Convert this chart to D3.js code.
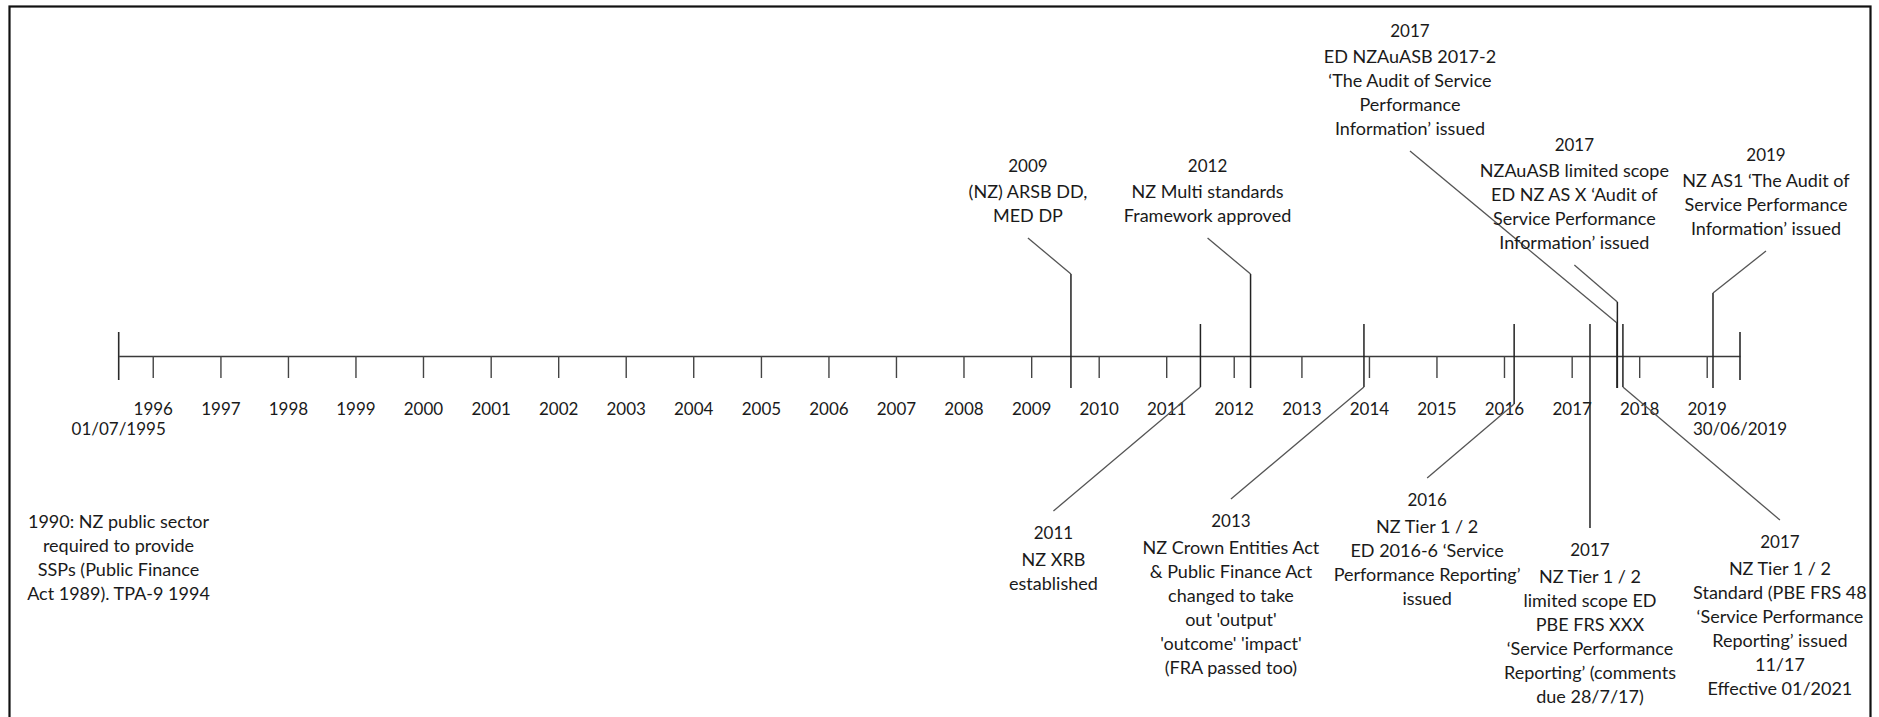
<!DOCTYPE html>
<html lang="en">
<head>
    <meta charset="UTF-8">
    <title>NZ service performance reporting timeline</title>
    <script src="https://cdn.jsdelivr.net/npm/d3@7"></script>
    <style>
        body { margin: 0; background: #fff; }
        text { font-family: Lato, "Open Sans", sans-serif; fill: #1a1a1a; }
    </style>
</head>
<body>
<div id="chart"></div>

<script>
    // timeline span
    var startDate = "1995-07-01", endDate = "2019-06-30";
    var startLabel = "01/07/1995", endLabel = "30/06/2019";

    // events on the timeline
    var eventDates = ["2009-08-04", "2012-04-01", "2017-09-03", "2017-09-05", "2019-02-04",
        "2011-07-05", "2013-12-05", "2016-02-25", "2017-04-10", "2017-10-05"];
    var eventYears = ["2009", "2012", "2017", "2017", "2019", "2011", "2013", "2016", "2017", "2017"];
    var eventSides = ["above", "above", "above", "above", "above", "below", "below", "below", "below", "below"];
    var eventTexts = [
        ["(NZ) ARSB DD,", "MED DP"],
        ["NZ Multi standards", "Framework approved"],
        ["ED NZAuASB 2017-2", "\u2018The Audit of Service", "Performance", "Information\u2019 issued"],
        ["NZAuASB limited scope", "ED NZ AS X \u2018Audit of", "Service Performance", "Information\u2019 issued"],
        ["NZ AS1 \u2018The Audit of", "Service Performance", "Information\u2019 issued"],
        ["NZ XRB", "established"],
        ["NZ Crown Entities Act", "& Public Finance Act", "changed to take", "out 'output'", "'outcome' 'impact'", "(FRA passed too)"],
        ["NZ Tier 1 / 2", "ED 2016-6 \u2018Service", "Performance Reporting\u2019", "issued"],
        ["NZ Tier 1 / 2", "limited scope ED", "PBE FRS XXX", "\u2018Service Performance", "Reporting\u2019  (comments", "due 28/7/17)"],
        ["NZ Tier 1 / 2", "Standard (PBE FRS 48", "\u2018Service Performance", "Reporting\u2019 issued", "11/17", "Effective 01/2021"]
    ];

    // note that sits before the timeline starts
    var noteLines = ["1990: NZ public sector", "required to provide", "SSPs (Public Finance", "Act 1989). TPA-9 1994"];

    // layout of the callouts: label shift from the event line, end of leader, bend of leader
    var labelDx = [-43, -43, -207, -43, 53, -147, -133, -87, 0, 157];
    var leaderY = [238, 238, 151, 265, 251, 511, 499, 478, 528, 520];
    var elbowY = [274, 274, 323, 302, 293, 387, 387, 404, 528, 387];

    var width = 1879, height = 717, axisY = 356;
    var fontSize = 18, numberSize = 17;
    var parse = d3.timeParse("%Y-%m-%d");

    var svg = d3.select("#chart").append("svg")
        .attr("width", width)
        .attr("height", height);

    // frame
    svg.append("rect")
        .attr("x", 9.5).attr("y", 6.5)
        .attr("width", 1861).attr("height", 800)
        .attr("fill", "none")
        .attr("stroke", "#111")
        .attr("stroke-width", 2.2);

    var x = d3.scaleTime()
        .domain([parse(startDate), parse(endDate)])
        .range([118.7, 1740]);

    // axis with yearly ticks
    var axis = svg.append("g")
        .attr("transform", "translate(0," + axisY + ")")
        .call(d3.axisBottom(x)
            .ticks(d3.timeYear.every(1))
            .tickFormat(d3.timeFormat("%Y"))
            .tickSize(22)
            .tickSizeOuter(0)
            .tickPadding(25));
    axis.attr("font-family", null).attr("font-size", null);
    axis.select(".domain").attr("stroke", "#3a3a3a").attr("stroke-width", 1.5);
    axis.selectAll(".tick line").attr("stroke", "#444").attr("stroke-width", 1.4);
    axis.selectAll(".tick text").style("font-size", numberSize + "px").attr("fill", "#1a1a1a");

    // end ticks and their dates
    [startDate, endDate].forEach(function (d, i) {
        svg.append("line")
            .attr("x1", x(parse(d))).attr("x2", x(parse(d)))
            .attr("y1", axisY - 24).attr("y2", axisY + 24)
            .attr("stroke", "#2a2a2a").attr("stroke-width", 1.6);
        svg.append("text")
            .attr("x", x(parse(d)))
            .attr("y", 435)
            .attr("text-anchor", "middle")
            .style("font-size", numberSize + "px")
            .text(i === 0 ? startLabel : endLabel);
    });

    function drawLines(lines, cx, yCenters, yearFirst) {
        var t = svg.append("text")
            .attr("text-anchor", "middle")
            .style("font-size", fontSize + "px");
        lines.forEach(function (s, k) {
            t.append("tspan")
                .attr("x", cx)
                .attr("y", yCenters[k])
                .attr("dy", "0.36em")
                .style("font-size", (yearFirst && k === 0 ? numberSize : fontSize) + "px")
                .text(s);
        });
    }

    // events
    eventDates.forEach(function (d, i) {
        var ex = x(parse(d));
        var lx = ex + labelDx[i];
        var lines = [eventYears[i]].concat(eventTexts[i]);
        var ys = [];

        if (eventSides[i] === "above") {
            svg.append("line")
                .attr("x1", ex).attr("x2", ex)
                .attr("y1", elbowY[i]).attr("y2", axisY + 32)
                .attr("stroke", "#222").attr("stroke-width", 1.5);
            var last = leaderY[i] - 22;
            for (var k = 1; k < lines.length; k++) {
                ys[k] = last - (lines.length - 1 - k) * 24;
            }
            ys[0] = ys[1] - 26.5;
        } else {
            svg.append("line")
                .attr("x1", ex).attr("x2", ex)
                .attr("y1", axisY - 32).attr("y2", elbowY[i])
                .attr("stroke", "#222").attr("stroke-width", 1.5);
            var first = leaderY[i] + 22;
            ys[0] = first;
            for (var j = 1; j < lines.length; j++) {
                ys[j] = first + 26.5 + (j - 1) * 24;
            }
        }

        if (labelDx[i] !== 0) {
            svg.append("line")
                .attr("x1", ex).attr("y1", elbowY[i])
                .attr("x2", lx).attr("y2", leaderY[i])
                .attr("stroke", "#555").attr("stroke-width", 1.3);
        }

        drawLines(lines, lx, ys, true);
    });

    // note at the left
    drawLines(noteLines, 118.5, noteLines.map(function (s, k) { return 522 + k * 24; }), false);
</script>
</body>
</html>
